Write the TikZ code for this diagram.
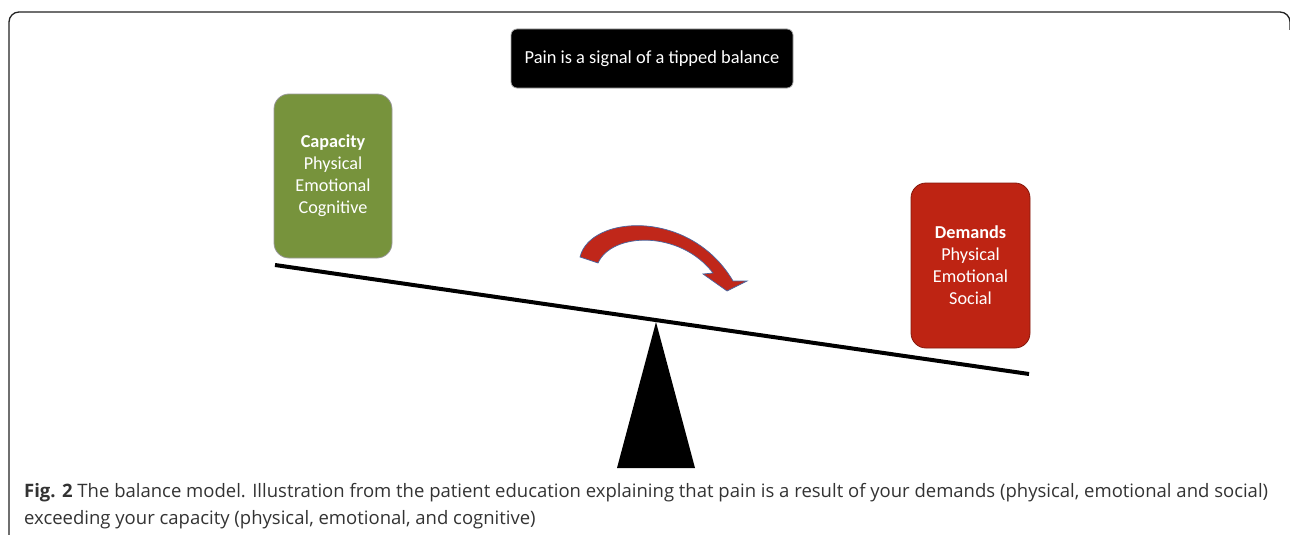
\documentclass[tikz,border=0pt]{standalone}
\usepackage{fontspec}
\setmainfont{Carlito}
\newfontfamily\capfont{Open Sans}
\definecolor{capgreen}{HTML}{77933C}
\definecolor{demred}{HTML}{BE2413}
\definecolor{arrred}{HTML}{C0271A}
\definecolor{arrblue}{HTML}{4A66A0}
\definecolor{frameline}{HTML}{222222}
\definecolor{captext}{HTML}{333333}
\tikzset{
  boxbase/.style={rounded corners=15pt, text=white, align=center, font=\fontsize{18.2}{22}\selectfont, line width=0.8pt},
  capbox/.style={boxbase, fill=capgreen, draw=gray!80},
  dembox/.style={boxbase, fill=demred, draw=demred!70!black},
  titlebox/.style={rounded corners=6pt, fill=black, draw=gray!70, text=white, font=\fontsize{18.4}{22}\selectfont, line width=0.8pt},
  captionline/.style={anchor=base west, inner sep=0pt, text=captext, font=\capfont\fontsize{18.5}{22}\selectfont}
}
\begin{document}
\begin{tikzpicture}[x=1pt,y=-1pt]
\useasboundingbox (0,0) rectangle (1290,535);
% frame
\draw[frameline, line width=1.3pt] (9,540) -- (9,22) arc[start angle=180, end angle=270, radius=10] -- (1280,12) arc[start angle=270, end angle=360, radius=10] -- (1290,30);
% title box
\node[titlebox, minimum width=282pt, minimum height=59pt] (title) at (652,58.5) {Pain is a signal of a tipped balance};
% capacity box
\node[capbox, minimum width=118pt, minimum height=164pt] (cap) at (333,176) {\textbf{Capacity}\\Physical\\Emotional\\Cognitive};
% demands box
\node[dembox, minimum width=119pt, minimum height=165pt] (dem) at (970.5,265.5) {\textbf{Demands}\\Physical\\Emotional\\Social};
% beam
\coordinate (bl) at (275,265);
\coordinate (br) at (1029,374);
\draw[line width=4pt] (bl) -- (br);
% fulcrum
\coordinate (apex) at (656,322);
\coordinate (fl) at (617,468);
\coordinate (fr) at (695,468);
\fill[black] (apex) -- (fr) -- (fl) -- cycle;
% curved arrow
\filldraw[fill=arrred, draw=arrblue, line width=0.7pt]
  (580,257) .. controls (590,215) and (690,208) .. (733,281)
  -- (747,281) -- (727,291) -- (703,274) -- (713,273)
  .. controls (680,230) and (612,232) .. (598,263) -- cycle;
% caption
\node[captionline] (cap1) at (24,497) {\textbf{Fig. 2} The balance model. Illustration from the patient education explaining that pain is a result of your demands (physical, emotional and social)};
\node[captionline] (cap2) at (24,524) {exceeding your capacity (physical, emotional, and cognitive)};
\end{tikzpicture}
\end{document}
